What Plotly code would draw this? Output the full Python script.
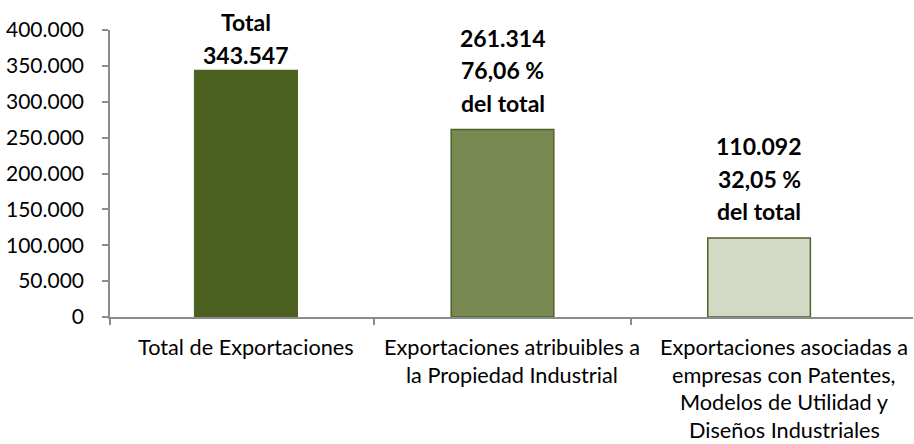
import plotly.graph_objects as go

# ---- data ----
categories = [
    "Total de Exportaciones",
    "Exportaciones atribuibles a<br>la Propiedad Industrial",
    "Exportaciones asociadas a<br>empresas con Patentes,<br>Modelos de Utilidad y<br>Diseños Industriales",
]
values = [343547, 261314, 110092]
percent_labels = [None, "76,06 %", "32,05 %"]
y_tickvals = [0, 50000, 100000, 150000, 200000, 250000, 300000, 350000, 400000]

# ---- style ----
fills = ["#4B5F1E", "#788A52", "#D3D9C4"]
outline = "#4F6228"
axis_gray = "#8C8C8C"
FONT = "Lato"
label_offsets = [16, 27, 27]   # px from bar top to centre of lowest label line
label_spacing = 32.5
cat_first = 30
cat_spacing = 27.5
cat_xshift = [0, 9, 25]


def fmt(v):
    return f"{v:,}".replace(",", ".")


xs = list(range(len(values)))
fig = go.Figure(
    go.Bar(
        x=xs,
        y=values,
        width=0.4,
        marker=dict(color=fills, line=dict(color=outline, width=1.5)),
        hoverinfo="skip",
    )
)

annotations = []
for i, v in enumerate(values):
    if percent_labels[i] is None:
        lines = ["Total", fmt(v)]
    else:
        lines = [fmt(v), percent_labels[i], "del total"]
    for j, line in enumerate(reversed(lines)):
        annotations.append(dict(
            x=i, y=v, xref="x", yref="y", text=f"<b>{line}</b>", showarrow=False,
            yanchor="middle", xanchor="center",
            yshift=label_offsets[i] + j * label_spacing,
            font=dict(family=FONT, size=23, color="#000000"),
        ))
    for j, line in enumerate(categories[i].split("<br>")):
        annotations.append(dict(
            x=i, y=0, xref="x", yref="y", text=line, showarrow=False,
            yanchor="middle", xanchor="center", borderpad=0,
            xshift=cat_xshift[i],
            yshift=-(cat_first + j * cat_spacing),
            font=dict(family=FONT, size=21.7, color="#000000"),
        ))

x_range = [-0.53, 2.6]
fig.update_layout(
    width=914, height=444,
    margin=dict(l=110, r=1, t=30, b=127),
    paper_bgcolor="white", plot_bgcolor="white",
    showlegend=False,
    separators=",.",
    annotations=annotations,
    font=dict(family=FONT, color="#000000"),
)
fig.update_xaxes(
    range=x_range, tickvals=[x_range[0], 0.5, 1.5], showticklabels=False,
    ticks="outside", ticklen=6, tickcolor=axis_gray, tickwidth=1.5,
    showline=True, linecolor=axis_gray, linewidth=1.5,
    showgrid=False, zeroline=False, fixedrange=True,
)
fig.update_yaxes(
    range=[0, 400000], tickvals=y_tickvals, tickformat=",.0f",
    ticks="outside", ticklen=6, tickcolor=axis_gray, tickwidth=1.5,
    showline=True, linecolor=axis_gray, linewidth=1.5,
    showgrid=False, zeroline=False, ticklabelstandoff=14,
    tickfont=dict(family=FONT, size=21, color="#000000"),
)

fig.write_html(
    "out.html",
    config={"displayModeBar": False},
    post_script="document.body.style.margin='0px';document.body.style.overflow='hidden';",
)
